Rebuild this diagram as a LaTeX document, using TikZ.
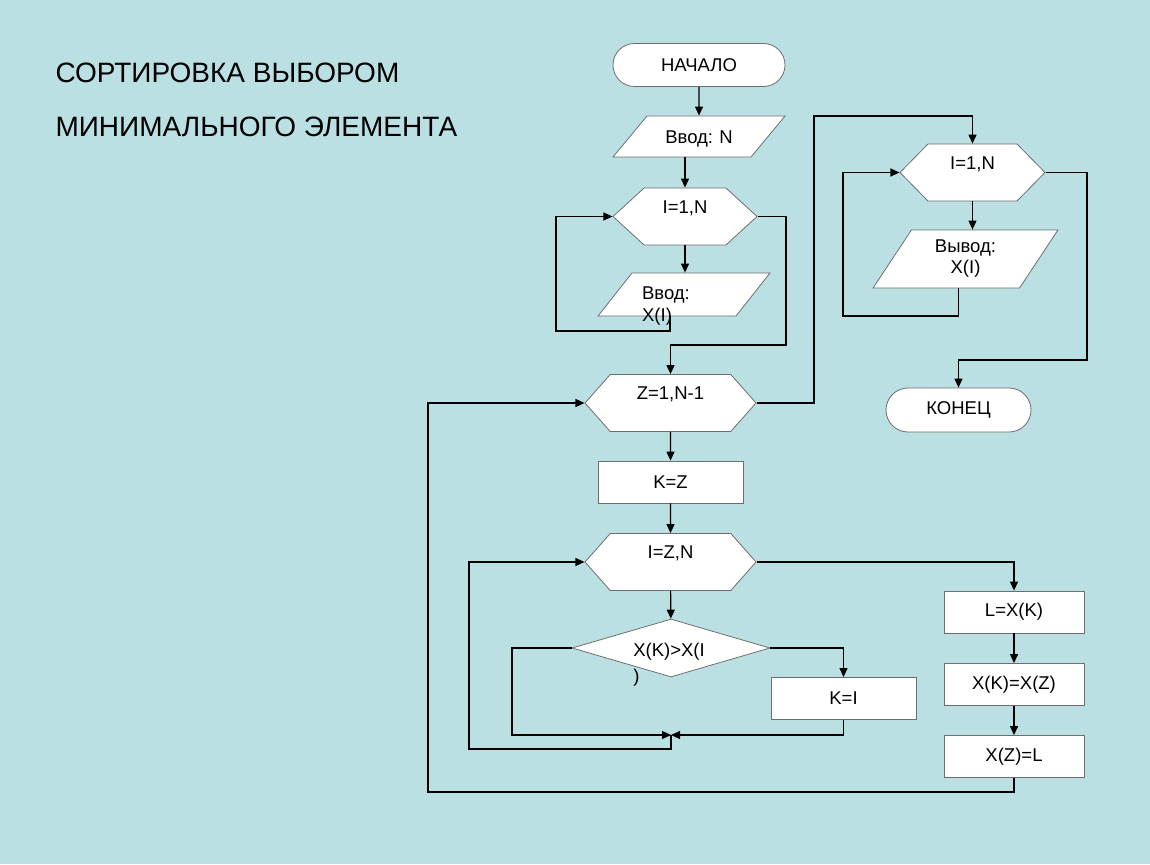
\documentclass[tikz,border=0pt]{standalone}
\usepackage{fontspec}
\setmainfont{Liberation Sans}
\usetikzlibrary{shapes.geometric,shapes.misc,shapes.symbols,arrows.meta}
\definecolor{slidebg}{RGB}{187,224,227}
\definecolor{edgegray}{RGB}{110,110,110}
\frenchspacing

\begin{document}
\begin{tikzpicture}[x=1pt,y=-1pt,
    blk/.style={draw=edgegray, fill=white, line width=0.8pt, inner sep=0pt, font=\fontsize{18.5}{21}\selectfont},
    term/.style={blk, rounded rectangle},
    io/.style={blk, trapezium, align=center},
    cyc/.style={blk, signal, signal to=east and west, text height=25pt, text depth=32pt},
    proc/.style={blk, rectangle, minimum width=145pt, minimum height=42pt},
    flow/.style={line width=1.1pt, -{Triangle[length=9pt,width=8pt]}}]
    \fill[slidebg] (0,0) rectangle (1150,864);
    \node (Title) at (52,100) [anchor=west, align=left, font=\fontsize{28}{54}\selectfont] {СОРТИРОВКА ВЫБОРОМ\\МИНИМАЛЬНОГО ЭЛЕМЕНТА};
    % input and first loop
    \node (Start) at (699,65) [term, minimum width=172pt, minimum height=43pt] {НАЧАЛО};
    \node (InN) at (699,136.5) [io, trapezium left angle=50.3, trapezium right angle=129.7, text width=104pt, text height=27pt, text depth=14pt] {Ввод: N};
    \node (LoopA) at (685,216.5) [cyc, signal pointer angle=85, minimum width=144pt] {I=1,N};
    \node (InX) at (684,294.5) [io, trapezium left angle=51.7, trapezium right angle=128.3, text width=104pt, text height=43pt, text depth=0pt,
      label={[xshift=-18pt, yshift=-11.5pt, align=left, font=\fontsize{18.5}{22}\selectfont]center:{Ввод:\\X(I)}}] {};
    % sorting
    \node (Outer) at (670.5,403) [cyc, signal pointer angle=97, minimum width=171pt] {Z=1,N-1};
    \node (KZ) at (670.5,482) [proc] {K=Z};
    \node (Inner) at (670.5,562) [cyc, signal pointer angle=97, minimum width=171pt] {I=Z,N};
    \node (Cmp) at (671,648) [blk, diamond, inner sep=2pt, minimum width=198pt, minimum height=58pt,
      label={[xshift=-2pt, yshift=-17pt, align=left, font=\fontsize{18.5}{26}\selectfont]center:{X(K)>X(I\\)}}] {};
    \node (KI) at (843.5,698.5) [proc] {K=I};
    \coordinate (Join) at (671,735);
    \node (SwapA) at (1014,612) [proc, minimum width=140pt] {L=X(K)};
    \node (SwapB) at (1014,684.5) [proc, minimum width=140pt] {X(K)=X(Z)};
    \node (SwapC) at (1014,756.5) [proc, minimum width=140pt] {X(Z)=L};
    % output
    \node (LoopB) at (972.5,172.5) [cyc, signal pointer angle=91, minimum width=145pt] {I=1,N};
    \node (OutX) at (965.5,259) [io, trapezium stretches=true, trapezium left angle=60, trapezium right angle=120, minimum width=185pt, minimum height=58pt] {Вывод:\\X(I)};
    \node (Stop) at (958.5,410) [term, minimum width=145pt, minimum height=44pt] {КОНЕЦ};

    \draw[flow] (Start) -- (InN);
    \draw[flow] (LoopA.north |- InN.south) -- (LoopA.north);
    \draw[flow] (LoopA.south) -- (LoopA.south |- InX.north);
    \draw[flow] ([xshift=-14pt]InX.south) |- (556,331) |- (LoopA.west);
    \draw[flow] (LoopA.east) -| (786,345) -| (Outer.north);
    \draw[flow] (Outer) -- (KZ);
    \draw[flow] (KZ) -- (Inner);
    \draw[flow] (Inner) -- (Cmp);
    \draw[flow] (Cmp.east) -| (KI.north);
    \draw[flow] (KI.south) |- (Join);
    \draw[flow] (Cmp.west) -| (512,735) -- (Join);
    \draw[flow] (Join) |- (469,749) |- (Inner.west);
    \draw[flow] (Inner.east) -| (SwapA.north);
    \draw[flow] (SwapA) -- (SwapB);
    \draw[flow] (SwapB) -- (SwapC);
    \draw[flow] (SwapC.south) |- (428,792) |- (Outer.west);
    \draw[flow] (Outer.east) -| (814,116) -| (LoopB.north);
    \draw[flow] (LoopB.south) -- (LoopB.south |- OutX.north);
    \draw[flow] ([xshift=-7pt]OutX.south) |- (843,316) |- (LoopB.west);
    \draw[flow] (LoopB.east) -| (1087,360) -| (Stop.north);
\end{tikzpicture}
\end{document}
